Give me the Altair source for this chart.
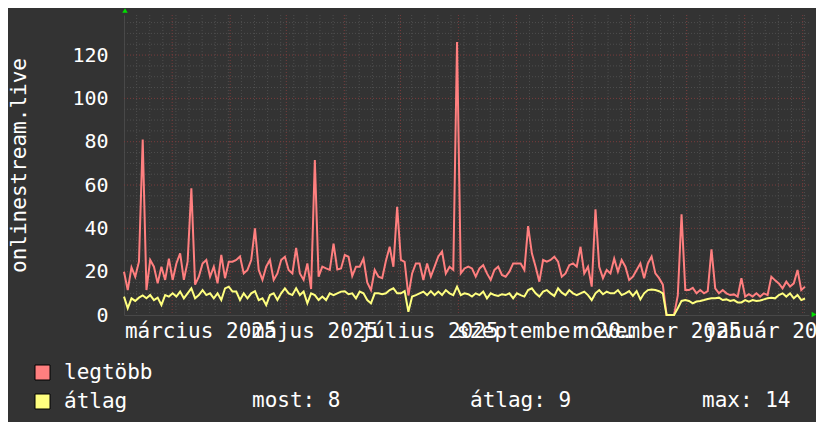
import altair as alt
import pandas as pd

# ---- data (one value every 2 days) ----
START = "2025-02-03 06:00:00"
STEP = "2D"

legtobb = [
    20, 11.5, 22, 17.7, 24.6, 81, 11.5, 25.4, 22.3, 14.6,
    22.3, 16.2, 26, 16.2, 23.8, 28.5, 16.2, 24.6, 58.5, 14,
    17.7, 23.8, 25.4, 17.7, 22.3, 14.6, 27.7, 17, 24.6, 24.6,
    25.4, 27, 19.2, 20.8, 25.4, 40, 20.8, 16.2, 22.3, 25.4,
    16.2, 19.2, 25.4, 26.9, 20.8, 19.2, 31, 19.2, 16.2, 23.8,
    12, 71.5, 17.7, 22.3, 21.5, 20.8, 33, 21, 21.5, 27.7,
    26.9, 18, 22.3, 22.3, 26, 15, 11.5, 20.8, 17.7, 17,
    25, 31.5, 22.3, 50, 25.4, 24.5, 9, 19.2, 23.8, 23.8,
    16.2, 23.8, 17.7, 22.3, 27, 29.3, 19.2, 22.3, 20.8, 126,
    19.2, 21.5, 22.3, 21.5, 17.7, 21.5, 23, 19.2, 16.2, 20.8,
    22.3, 18.5, 17.7, 20, 23.8, 23.8, 23.8, 20.8, 41, 28.5,
    22.3, 15.4, 25.4, 24.6, 25.4, 26.9, 24.6, 17.7, 19.2, 23,
    23.8, 22.3, 31.5, 19.2, 22.3, 13.1, 48.8, 22.3, 17, 20.8,
    19.2, 26, 20, 25.4, 22.3, 16.2, 17.7, 20.8, 23.8, 17,
    23.8, 27, 19.2, 17, 14, 0, 0, 0, 9, 46.5,
    11.5, 11.5, 12.5, 10, 11.5, 10, 11, 30.3, 12.3, 10,
    11.5, 10, 9.2, 9.5, 8.5, 17, 8.5, 9.6, 8.5, 10,
    8.5, 10, 9.2, 17.7, 16, 14.6, 12.3, 15.4, 13.1, 14.6,
    20.8, 11.5, 13.1,
]

atlag = [
    8.5, 3.1, 7.7, 6.5, 8, 9, 7.7, 9.2, 6.9, 8,
    4.6, 9.2, 8.5, 10, 8.5, 10.8, 7.7, 10, 12.3, 7.7,
    9.2, 11.5, 9.2, 10, 7.7, 10, 6.9, 12.3, 13.1, 10.8,
    10.8, 6.9, 10, 7.7, 10, 11, 6.9, 7.7, 4.6, 9.2,
    10, 6.9, 10, 12.3, 10, 9.2, 12.3, 9.2, 10.8, 5.4,
    10, 9.2, 6.9, 8.5, 6.9, 10, 9.2, 10, 10.8, 11,
    9.6, 10, 7.7, 10.8, 10, 6.9, 5.4, 10, 10, 9.6,
    10, 11.5, 12.3, 10, 10, 11, 1.5, 8.5, 9.2, 10,
    10.8, 9.2, 11, 9.2, 10.8, 9.2, 11.5, 10, 9.2, 13.1,
    9.2, 10, 9.6, 8.5, 10, 9.2, 10.8, 7.7, 10, 9.2,
    8.8, 9.6, 9.2, 10, 7.7, 10, 9.2, 8.5, 11.5, 12.3,
    10, 8.5, 10.8, 11.5, 10, 8.8, 12.3, 10.3, 9.2, 11.5,
    10, 9.2, 10, 10.8, 9.2, 6.9, 10, 11.5, 9.6, 10.8,
    10, 10, 11.5, 9.2, 10, 11, 8.8, 11, 7.2, 10,
    11.5, 11.8, 11.5, 11, 10, 0, 0, 0, 3.1, 6.5,
    6.9, 6.5, 5.4, 6.2, 6.5, 6.9, 7.4, 7.7, 7.7, 8,
    6.9, 7.2, 6.5, 6.9, 5.8, 5.8, 6.9, 6.2, 6.9, 6.5,
    6.7, 7.2, 7.7, 8, 7.7, 9.2, 10, 8.5, 10, 7.7,
    9.2, 6.9, 7.6,
]

SERIES = ["legtöbb", "átlag"]
COLORS = ["#ff7f7f", "#ffff7f"]
STATS = ["most: 8", "átlag: 9", "max: 14"]
Y_AXIS_TITLE = "onlinestream.live"
MONTHS_HU = ["január", "február", "március", "április", "május", "június",
             "július", "augusztus", "szeptember", "október", "november", "december"]
Y_LABELS = [0, 20, 40, 60, 80, 100, 120]
Y_MINOR = [v for v in range(5, 140, 5) if v % 20 != 0]

FMT = "%Y-%m-%dT%H:%M:%S"
times = pd.date_range(START, periods=len(legtobb), freq=STEP).strftime(FMT)
df = pd.DataFrame({"t": times, "legtobb": legtobb, "atlag": atlag})

month_starts = pd.DataFrame({"t": pd.date_range("2025-03-01", "2026-02-01", freq="MS").strftime(FMT)})
week_starts = pd.DataFrame({"t": pd.date_range("2025-02-10", "2026-02-02", freq="7D").strftime(FMT)})
minor_h = pd.DataFrame({"legtobb": Y_MINOR})
major_h = pd.DataFrame({"legtobb": Y_LABELS[1:]})
legend_df = pd.DataFrame({"series": SERIES})

FONT = "DejaVu Sans Mono"
BG = "#333333"
PLOT_BG = "#212121"
MINOR_GRID = "#4e4e4e"
MAJOR_GRID = "#7a3c3c"

x_dom = [alt.DateTime(year=2025, month=2, date=3, hours=6),
         alt.DateTime(year=2026, month=2, date=4, hours=9)]
x_scale = alt.Scale(domain=x_dom, nice=False)
y_scale = alt.Scale(domain=[0, 138.5], nice=False, zero=False)

label_values = [alt.DateTime(year=2025, month=m, date=16) for m in (3, 5, 7, 9, 11)] + \
               [alt.DateTime(year=2026, month=1, date=16)]
label_expr = "[" + ",".join("'%s'" % m for m in MONTHS_HU) + "][month(datum.value)] + ' ' + year(datum.value)"

x_axis = alt.Axis(values=label_values, labelExpr=label_expr, labelOverlap=False,
                  labelFlush=False, labelBound=False, labelFont=FONT, labelFontSize=21,
                  labelColor="white", labelPadding=5, ticks=False, grid=False,
                  domain=True, domainColor="#484848", title=None)
y_axis = alt.Axis(values=Y_LABELS, labelFont=FONT, labelFontSize=20, labelColor="white",
                  labelPadding=16, ticks=False, grid=False, domain=True, domainColor="#484848",
                  title=Y_AXIS_TITLE, titleFont=FONT, titleFontSize=21, titleFontWeight="normal",
                  titleColor="white", titleAngle=270, titleX=-105, titleY=150,
                  titleAlign="center", titleBaseline="middle")

X = alt.X("t:T", scale=x_scale, axis=x_axis)
Y_RED = alt.Y("legtobb:Q", scale=y_scale, axis=y_axis)
Y_YEL = alt.Y("atlag:Q", scale=y_scale, axis=y_axis)

def grid(data, color, channel):
    base = alt.Chart(data).mark_rule(color=color, strokeDash=[1, 2], strokeWidth=1)
    return base.encode(x=X) if channel == "x" else base.encode(y=Y_RED)

minor_v_layer = grid(week_starts, MINOR_GRID, "x")
major_v_layer = grid(month_starts, MAJOR_GRID, "x")
minor_h_layer = grid(minor_h, MINOR_GRID, "y")
major_h_layer = grid(major_h, MAJOR_GRID, "y")

red_line = alt.Chart(df).mark_line(color=COLORS[0], strokeWidth=2).encode(x=X, y=Y_RED)
yellow_line = alt.Chart(df).mark_line(color=COLORS[1], strokeWidth=2).encode(x=X, y=Y_YEL)

legend_layer = alt.Chart(legend_df).mark_point(filled=True, shape="square", opacity=1).encode(
    color=alt.Color("series:N", scale=alt.Scale(domain=SERIES, range=COLORS),
                    legend=alt.Legend(orient="none", legendX=-92, legendY=347, direction="vertical",
                                      title=None, symbolType="square", symbolSize=225,
                                      symbolStrokeColor="black", symbolStrokeWidth=1,
                                      symbolOpacity=1, labelFont=FONT, labelFontSize=21,
                                      labelColor="white", labelOffset=11, rowPadding=7,
                                      padding=0))
).transform_filter("false")

one = pd.DataFrame({"a": [0]})
stat_layers = [
    alt.Chart(one).mark_text(align="left", baseline="middle", font=FONT, fontSize=21, color="white").encode(
        x=alt.value(px), y=alt.value(386), text=alt.value(s))
    for s, px in zip(STATS, [128, 346, 578])
]

arrow_up = alt.Chart(one).mark_point(shape="triangle-up", filled=True, color="#00e000", size=30, opacity=1).encode(
    x=alt.value(1), y=alt.value(-4.5))
arrow_right = alt.Chart(one).mark_point(shape="triangle-right", filled=True, color="#00e000", size=30, opacity=1).encode(
    x=alt.value(690), y=alt.value(299.5))

chart = alt.layer(
    minor_v_layer, minor_h_layer, major_v_layer, major_h_layer,
    red_line, yellow_line, legend_layer, arrow_up, arrow_right, *stat_layers
).properties(
    width=685, height=300,
    autosize=alt.AutoSizeParams(type="none"),
    padding={"left": 116, "top": 7, "right": 7, "bottom": 107},
    background=BG,
).configure_view(fill=PLOT_BG, stroke=None)

chart.save("out.html", embed_options={"renderer": "svg", "actions": False})
